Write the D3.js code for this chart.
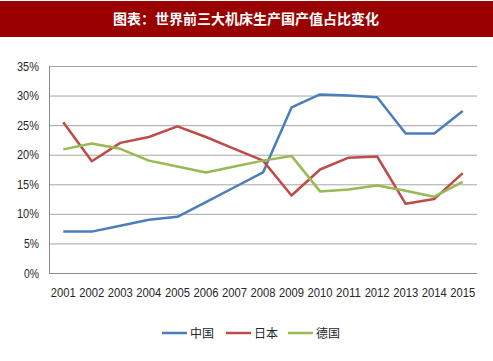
<!DOCTYPE html>
<html>
<head>
<meta charset="utf-8">
<script src="https://cdn.jsdelivr.net/npm/d3@7"></script>
<style>
  body { margin: 0; background: #fff; }
  text { font-family: "Liberation Sans", Arial, sans-serif; }
</style>
</head>
<body>
<div id="chart"></div>
<script>
// Data
let years = ["2001","2002","2003","2004","2005","2006","2007","2008","2009","2010","2011","2012","2013","2014","2015"]
let china   = [7.0, 7.0, 8.0, 9.0, 9.5, 12.0, 14.5, 17.0, 28.0, 30.2, 30.0, 29.7, 23.6, 23.6, 27.4]
let japan   = [25.5, 18.9, 22.0, 23.0, 24.8, 23.0, 21.0, 19.0, 13.1, 17.5, 19.5, 19.7, 11.7, 12.5, 16.9]
let germany = [20.9, 21.9, 21.0, 19.0, 18.0, 17.0, 18.0, 19.0, 19.8, 13.8, 14.1, 14.8, 13.9, 12.9, 15.4]
let seriesNames = ["中国", "日本", "德国"]
let yTicks = [0, 5, 10, 15, 20, 25, 30, 35]

let colors = ["#4a7ebb", "#be4b48", "#98b954"]
let series = [china, japan, germany]

let width = 493
let height = 361
let plotLeft = 49, plotRight = 477, plotTop = 66, plotBottom = 273

const svg = d3.select("#chart")
            .append("svg")
            .attr("width", width)
            .attr("height", height)

// Title bar
svg.append("rect")
   .attr("x", 0).attr("y", 1)
   .attr("width", width).attr("height", 36)
   .attr("fill", "#990000")

svg.append("text")
   .attr("x", 246).attr("y", 24)
   .attr("text-anchor", "middle")
   .attr("fill", "#fff")
   .style("font-family", "'Noto Sans CJK SC', sans-serif")
   .style("font-weight", "bold")
   .style("font-size", "14px")
   .text("图表：世界前三大机床生产国产值占比变化")

let x = d3.scaleBand().domain(years).range([plotLeft, plotRight])
let y = d3.scaleLinear().domain([0, 35]).range([plotBottom, plotTop])

// Gridlines
svg.append("g")
   .selectAll("line")
   .data(yTicks)
   .enter()
   .append("line")
   .attr("x1", plotLeft).attr("x2", plotRight)
   .attr("y1", d => y(d) + 0.5).attr("y2", d => y(d) + 0.5)
   .attr("stroke", d => d == 0 ? "#8c8c8c" : "#a6a6a6")
   .attr("stroke-width", 1)

svg.append("line")
   .attr("x1", plotLeft + 0.5).attr("x2", plotLeft + 0.5)
   .attr("y1", plotTop).attr("y2", plotBottom + 1)
   .attr("stroke", "#8c8c8c")

// Y labels
svg.append("g")
   .selectAll("text")
   .data(yTicks)
   .enter()
   .append("text")
   .attr("x", 39)
   .attr("y", d => y(d) + 4.5)
   .attr("text-anchor", "end")
   .attr("fill", "#262626")
   .attr("textLength", d => d < 10 ? 15 : 22)
   .attr("lengthAdjust", "spacingAndGlyphs")
   .style("font-size", "13px")
   .text(d => d + "%")

// X labels
svg.append("g")
   .selectAll("text")
   .data(years)
   .enter()
   .append("text")
   .attr("x", d => x(d) + x.bandwidth() / 2)
   .attr("y", 297)
   .attr("text-anchor", "middle")
   .attr("fill", "#262626")
   .attr("textLength", 25)
   .attr("lengthAdjust", "spacingAndGlyphs")
   .style("font-size", "12.5px")
   .text(d => d)

// Lines
let line = d3.line()
             .x((d, i) => x(years[i]) + x.bandwidth() / 2)
             .y(d => y(d))

svg.append("g")
   .selectAll("path")
   .data(series)
   .enter()
   .append("path")
   .attr("d", line)
   .attr("fill", "none")
   .attr("stroke", (d, i) => colors[i])
   .attr("stroke-width", 2.5)
   .attr("stroke-linejoin", "round")

// Legend
let legendX = [162, 226, 288]
let legend = svg.append("g")
legend.selectAll("line")
      .data(seriesNames)
      .enter()
      .append("line")
      .attr("x1", (d, i) => legendX[i]).attr("x2", (d, i) => legendX[i] + 25)
      .attr("y1", 333).attr("y2", 333)
      .attr("stroke", (d, i) => colors[i])
      .attr("stroke-width", 2.5)
legend.selectAll("text")
      .data(seriesNames)
      .enter()
      .append("text")
      .attr("x", (d, i) => legendX[i] + 28)
      .attr("y", 338)
      .attr("fill", "#262626")
      .style("font-family", "'Noto Sans CJK SC', sans-serif")
      .style("font-size", "12px")
      .text(d => d)
</script>
</body>
</html>
